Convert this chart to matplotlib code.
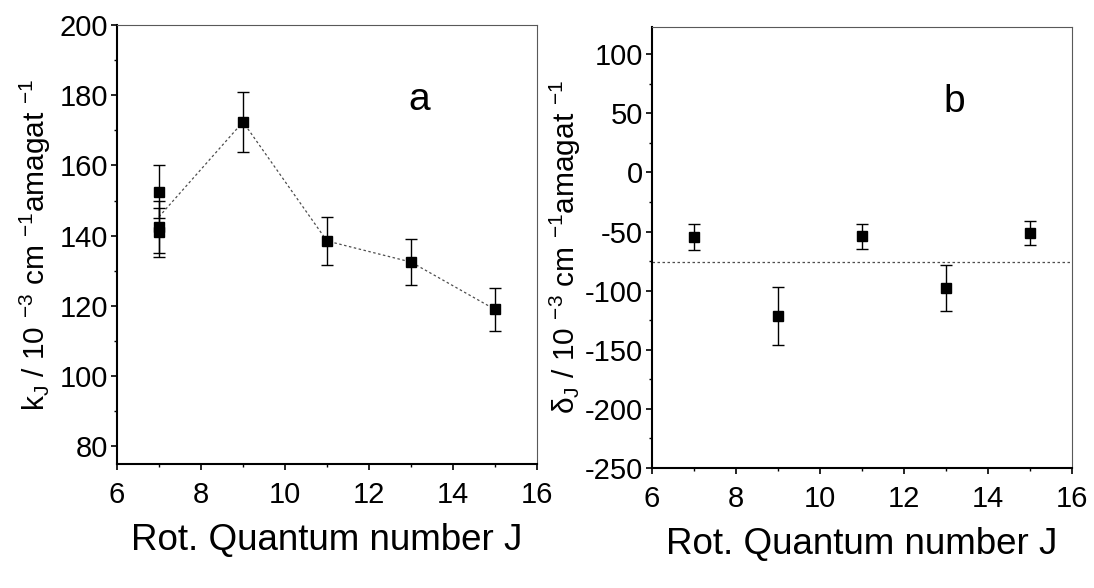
import matplotlib
matplotlib.use("Agg")
import matplotlib.pyplot as plt
from matplotlib.ticker import MultipleLocator

plt.rcParams["font.family"] = ["Liberation Sans", "DejaVu Sans"]
plt.rcParams["mathtext.fontset"] = "custom"
plt.rcParams["mathtext.rm"] = "Liberation Sans"
plt.rcParams["mathtext.it"] = "Liberation Sans:italic"
plt.rcParams["axes.unicode_minus"] = False

# panel a: broadening coefficients
k_J = [7, 7, 7, 9, 11, 13, 15]
k_val = [152.5, 142.5, 141.0, 172.4, 138.5, 132.5, 119.0]
k_err = [7.5, 7.5, 7.0, 8.5, 6.8, 6.6, 6.0]
k_line_J = [7, 9, 11, 13, 15]
k_line = [145.4, 172.4, 138.5, 132.5, 119.0]

# panel b: shift coefficients
d_J = [7, 9, 11, 13, 15]
d_val = [-55.0, -121.5, -54.0, -97.5, -51.5]
d_err = [11.0, 24.5, 10.5, 19.3, 10.3]
d_mean = -76.0

W, H = 1094, 588
fig = plt.figure(figsize=(W / 100, H / 100), dpi=100)
ax_a = fig.add_axes([117 / W, (H - 464) / H, 420 / W, 439 / H])
ax_b = fig.add_axes([652 / W, (H - 468) / H, 420 / W, 441 / H])


def style(ax):
    for side in ("left", "bottom"):
        ax.spines[side].set_linewidth(1.5)
    for side in ("top", "right"):
        ax.spines[side].set_linewidth(0.8)
        ax.spines[side].set_color("0.35")
    ax.tick_params(which="major", direction="out", length=4.5, width=1.2,
                   labelsize=21)
    ax.tick_params(which="minor", direction="out", length=2.5, width=1)
    ax.tick_params(axis="x", which="major", pad=8)
    ax.tick_params(axis="y", which="major", pad=2)
    ax.tick_params(top=False, right=False)
    ax.set_xlim(6, 16)
    ax.xaxis.set_major_locator(MultipleLocator(2))
    ax.xaxis.set_minor_locator(MultipleLocator(1))
    ax.set_xlabel("Rot. Quantum number J", fontsize=26.5, labelpad=10)


style(ax_a)
ax_a.plot(k_line_J, k_line, ls=(0, (2, 2)), lw=0.9, color="0.3")
ax_a.errorbar(k_J, k_val, yerr=k_err, fmt="s", ms=6.5, color="black",
              ecolor="black", elinewidth=1, capsize=4, capthick=1)
ax_a.set_ylim(75, 200)
ax_a.yaxis.set_major_locator(MultipleLocator(20))
ax_a.yaxis.set_minor_locator(MultipleLocator(10))
ax_a.set_ylabel("k$_{\\rm J}$ / 10 $^{-3}$ cm $^{-1}$amagat $^{-1}$", fontsize=21.5)
ax_a.yaxis.set_label_coords(-0.152, 0.5)
ax_a.text(0.72, 0.83, "a", transform=ax_a.transAxes, fontsize=28,
          ha="center", va="center")

style(ax_b)
ax_b.axhline(d_mean, ls=(0, (2, 2)), lw=0.9, color="0.3")
ax_b.errorbar(d_J, d_val, yerr=d_err, fmt="s", ms=6.5, color="black",
              ecolor="black", elinewidth=1, capsize=4, capthick=1)
ax_b.set_ylim(-250, 123)
ax_b.yaxis.set_major_locator(MultipleLocator(50))
ax_b.yaxis.set_minor_locator(MultipleLocator(25))
ax_b.set_ylabel("δ$_{\\rm J}$ / 10 $^{-3}$ cm $^{-1}$amagat $^{-1}$", fontsize=21.5)
ax_b.yaxis.set_label_coords(-0.165, 0.5)
ax_b.text(0.72, 0.83, "b", transform=ax_b.transAxes, fontsize=28,
          ha="center", va="center")

fig.savefig("out.png", dpi=100)
